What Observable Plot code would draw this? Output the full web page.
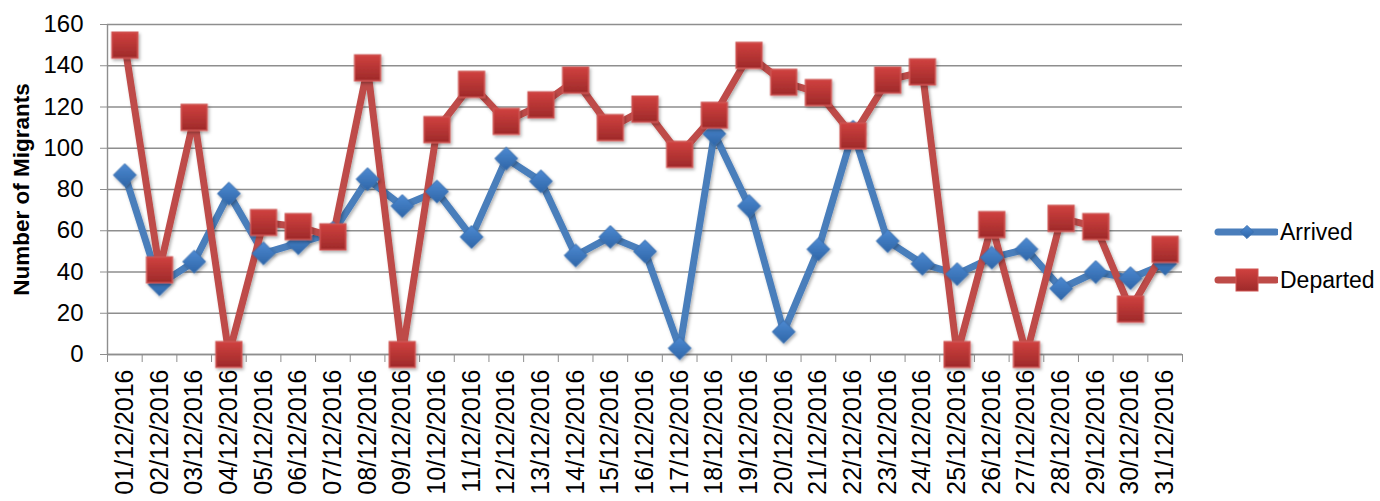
<!DOCTYPE html>
<html>
<head>
<meta charset="utf-8">
<script src="https://cdn.jsdelivr.net/npm/d3@7"></script>
<script src="https://cdn.jsdelivr.net/npm/@observablehq/plot@0.6"></script>
<style>
  html, body { margin: 0; padding: 0; background: #fff; }
  #wrap { position: relative; width: 1380px; height: 501px; font-family: "Liberation Sans", Arial, sans-serif; }
  #legend { position: absolute; left: 1214px; top: 216px; font-size: 23px; color: #000; }
  .entry { display: flex; align-items: center; height: 32px; margin-bottom: 16px; }
  .entry svg { display: block; margin-right: 2px; }
</style>
</head>
<body>
<div id="wrap"><div id="chart"></div><div id="legend"></div></div>
<script>
const dates = ["01/12/2016","02/12/2016","03/12/2016","04/12/2016","05/12/2016","06/12/2016","07/12/2016","08/12/2016","09/12/2016","10/12/2016","11/12/2016","12/12/2016","13/12/2016","14/12/2016","15/12/2016","16/12/2016","17/12/2016","18/12/2016","19/12/2016","20/12/2016","21/12/2016","22/12/2016","23/12/2016","24/12/2016","25/12/2016","26/12/2016","27/12/2016","28/12/2016","29/12/2016","30/12/2016","31/12/2016"];
const arrived  = [87,34,45,78,49,54,59,85,72,79,57,95,84,48,57,50,3,107,72,11,51,108,55,44,39,47,51,32,40,37,44];
const departed = [150,41,115,0,64,62,57,139,0,109,131,113,121,133,110,119,97,116,145,132,127,106,133,137,0,63,0,66,62,22,51];
const yTicks = [0,20,40,60,80,100,120,140,160];
const seriesNames = ["Arrived","Departed"];
const blue = "#4a7ebb", red = "#be4b48";

const rows = dates.map((d, i) => ({i, date: d, arrived: arrived[i], departed: departed[i]}));
const boundaries = d3.range(dates.length + 1);
const centers = dates.map((d, i) => i + 0.5);

const plot = Plot.plot({
  width: 1200,
  height: 501,
  marginLeft: 107,
  marginRight: 18,
  marginTop: 24,
  marginBottom: 147,
  style: {fontFamily: "'Liberation Sans', Arial, sans-serif", fontSize: "22px", color: "#000", background: "transparent", overflow: "visible"},
  x: {type: "linear", domain: [0, dates.length]},
  y: {domain: [0, 160]},
  marks: [
    Plot.gridY(yTicks, {stroke: "#8e8e8e", strokeOpacity: 1, strokeWidth: 1.4}),
    Plot.ruleX([0], {stroke: "#8e8e8e", strokeWidth: 1.4}),
    Plot.ruleY([0], {stroke: "#8e8e8e", strokeWidth: 1.4}),
    Plot.axisY({ticks: yTicks, tickSize: 7, tickPadding: 17, stroke: "#8e8e8e", fill: "#000", fontSize: 24,
      label: "Number of Migrants", labelAnchor: "center", labelArrow: "none", labelOffset: 94}),
    Plot.axisX({ticks: boundaries, tickSize: 8, tickFormat: () => "", stroke: "#8e8e8e", label: null}),
    Plot.axisX({ticks: centers, tickSize: 0, tickPadding: 15, tickRotate: -90, fontSize: 25, fill: "#000",
      tickFormat: d => dates[Math.floor(d)], label: null}),
    Plot.line(rows, {x: d => d.i + 0.5, y: "arrived", stroke: blue, strokeWidth: 7, strokeLinejoin: "round", strokeLinecap: "round"}),
    Plot.line(rows, {x: d => d.i + 0.5, y: "departed", stroke: red, strokeWidth: 7, strokeLinejoin: "round", strokeLinecap: "round"}),
    Plot.dot(rows, {x: d => d.i + 0.5, y: "arrived", symbol: "diamond2", r: 10.3, fill: blue, stroke: "#3b70b0", strokeWidth: 1}),
    Plot.dot(rows, {x: d => d.i + 0.5, y: "departed", symbol: "square", r: 14.5, fill: red, stroke: "#cf5553", strokeWidth: 1.5})
  ]
});

// label styling
d3.select(plot).selectAll('g[aria-label="y-axis label"] text').attr("font-weight", "bold").attr("font-size", 22.5);

// gradients and shadow
const defs = d3.select(plot).insert("defs", ":first-child");
const gb = defs.append("linearGradient").attr("id", "gblue").attr("x1", 0).attr("y1", 0).attr("x2", 0).attr("y2", 1);
gb.append("stop").attr("offset", "0%").attr("stop-color", "#4d8ad2");
gb.append("stop").attr("offset", "100%").attr("stop-color", "#2f66a8");
const gr = defs.append("linearGradient").attr("id", "gred").attr("x1", 0).attr("y1", 0).attr("x2", 0).attr("y2", 1);
gr.append("stop").attr("offset", "0%").attr("stop-color", "#d0413f");
gr.append("stop").attr("offset", "100%").attr("stop-color", "#9e2a2a");
const f = defs.append("filter").attr("id", "shadow").attr("x", "-30%").attr("y", "-30%").attr("width", "170%").attr("height", "170%");
f.append("feDropShadow").attr("dx", 1.5).attr("dy", 2).attr("stdDeviation", 1.5).attr("flood-color", "#000").attr("flood-opacity", 0.3);

const dotGroups = d3.select(plot).selectAll('g[aria-label="dot"]').nodes();
if (dotGroups[0]) d3.select(dotGroups[0]).attr("fill", "url(#gblue)").attr("filter", "url(#shadow)");
if (dotGroups[1]) d3.select(dotGroups[1]).attr("fill", "url(#gred)").attr("filter", "url(#shadow)");
const lineGroups = d3.select(plot).selectAll('g[aria-label="line"]').nodes();
lineGroups.forEach(g => d3.select(g).attr("filter", "url(#shadow)"));

document.getElementById("chart").appendChild(plot);

// legend
const legend = d3.select("#legend");
seriesNames.forEach((name, k) => {
  const e = legend.append("div").attr("class", "entry");
  const s = e.append("svg").attr("width", 64).attr("height", 32);
  const c = k === 0 ? blue : red;
  s.append("line").attr("x1", 4).attr("x2", 62).attr("y1", 16).attr("y2", 16)
    .attr("stroke", c).attr("stroke-width", 7).attr("stroke-linecap", "round");
  if (k === 0) {
    s.append("path").attr("d", d3.symbol(d3.symbolDiamond2, 110)()).attr("transform", "translate(33,16)")
      .attr("fill", "url(#gblue)").attr("stroke", "#3b70b0");
  } else {
    s.append("rect").attr("x", 22).attr("y", 5).attr("width", 22).attr("height", 22)
      .attr("fill", "url(#gred)").attr("stroke", "#cf5553");
  }
  e.append("span").text(name);
});
</script>
</body>
</html>
